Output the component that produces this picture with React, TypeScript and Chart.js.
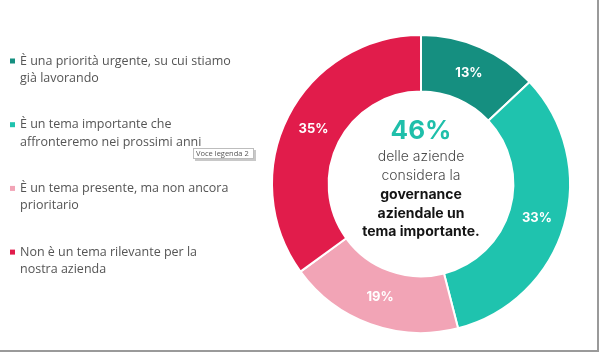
import { useEffect, useRef } from "react";
import { Chart, registerables } from "chart.js";

Chart.register(...registerables);

// Survey answers, in the order they go round the ring (clockwise from 12 o'clock)
const categories = [
  "È una priorità urgente, su cui stiamo già lavorando",
  "È un tema importante che affronteremo nei prossimi anni",
  "È un tema presente, ma non ancora prioritario",
  "Non è un tema rilevante per la nostra azienda",
];
const legendLines = [
  ["È una priorità urgente, su cui stiamo", "già lavorando"],
  ["È un tema importante che", "affronteremo nei prossimi anni"],
  ["È un tema presente, ma non ancora", "prioritario"],
  ["Non è un tema rilevante per la", "nostra azienda"],
];
const shares = [13, 33, 19, 35];
const sliceColors = ["#158f80", "#1fc3ae", "#f2a4b6", "#e11c4b"];

// Headline = first two answers combined
const headline = `${shares[0] + shares[1]}%`;
const centerLines = [
  { text: "delle aziende", bold: false },
  { text: "considera la", bold: false },
  { text: "governance", bold: true },
  { text: "aziendale un", bold: true },
  { text: "tema importante.", bold: true },
];
const hoverNote = "Voce legenda 2";

const overlayPlugin = {
  id: "overlay",
  afterDatasetsDraw(chart: any) {
    const ctx: CanvasRenderingContext2D = chart.ctx;
    const meta = chart.getDatasetMeta(0);
    ctx.save();

    // percentage on each slice
    ctx.fillStyle = "#ffffff";
    ctx.font = "bold 13px Inter, 'Open Sans', sans-serif";
    ctx.textAlign = "center";
    ctx.textBaseline = "middle";
    meta.data.forEach((arc: any, i: number) => {
      const p = arc.getProps(["x", "y", "startAngle", "endAngle", "innerRadius", "outerRadius"], true);
      const mid = (p.startAngle + p.endAngle) / 2;
      const r = (p.innerRadius + p.outerRadius) / 2;
      ctx.fillText(`${shares[i]}%`, p.x + Math.cos(mid) * r, p.y + Math.sin(mid) * r);
    });

    // text in the hole
    const first = meta.data[0];
    const cx = first.x;
    const cy = first.y;
    ctx.fillStyle = "#1fbfaa";
    ctx.font = "bold 26px Inter, 'Open Sans', sans-serif";
    ctx.fillText(headline, cx, cy - 53);
    centerLines.forEach((line, i) => {
      ctx.font = line.bold
        ? "bold 14px Inter, 'Open Sans', sans-serif"
        : "300 14px Inter, 'Open Sans', sans-serif";
      ctx.fillStyle = line.bold ? "#141414" : "#4a4a4a";
      ctx.fillText(line.text, cx, cy - 27 + i * 18.8);
    });

    // legend on the left
    ctx.textAlign = "left";
    legendLines.forEach((lines, i) => {
      const y = 61 + i * 63.7;
      ctx.fillStyle = sliceColors[i];
      ctx.fillRect(10, y - 2.5, 5, 5);
      ctx.fillStyle = "#555555";
      ctx.font = "12.5px 'Open Sans', sans-serif";
      lines.forEach((t, j) => ctx.fillText(t, 20, y + j * 17.5));
    });

    // hover note box
    ctx.fillStyle = "#c8c8c8";
    ctx.fillRect(195, 150, 61, 11);
    ctx.fillStyle = "#ffffff";
    ctx.fillRect(193, 148, 61, 11);
    ctx.strokeStyle = "#bdbdbd";
    ctx.lineWidth = 1;
    ctx.strokeRect(193.5, 148.5, 60, 10);
    ctx.fillStyle = "#555555";
    ctx.font = "7.5px 'Open Sans', sans-serif";
    ctx.fillText(hoverNote, 196, 154);

    // frame edges
    ctx.fillStyle = "#9a9a9a";
    ctx.fillRect(597, 0, 2, 351);
    ctx.fillRect(0, 350, 599, 2);

    ctx.restore();
  },
};

export default function App() {
  const canvasRef = useRef<HTMLCanvasElement | null>(null);

  useEffect(() => {
    if (!canvasRef.current) return;
    const chart = new Chart(canvasRef.current, {
      type: "doughnut",
      data: {
        labels: categories,
        datasets: [
          {
            data: shares,
            backgroundColor: sliceColors,
            borderColor: "#ffffff",
            borderWidth: 2,
          },
        ],
      },
      options: {
        responsive: false,
        animation: false,
        devicePixelRatio: 1,
        cutout: "62%",
        layout: { padding: { left: 271, right: 29, top: 34, bottom: 18 } },
        plugins: {
          legend: { display: false },
          tooltip: { enabled: false },
        },
      },
      plugins: [overlayPlugin],
    });
    return () => chart.destroy();
  }, []);

  return (
    <div style={{ position: "absolute", left: 0, top: 0, width: 600, height: 352, background: "#ffffff" }}>
      <canvas ref={canvasRef} width={600} height={352} style={{ display: "block" }} />
    </div>
  );
}
